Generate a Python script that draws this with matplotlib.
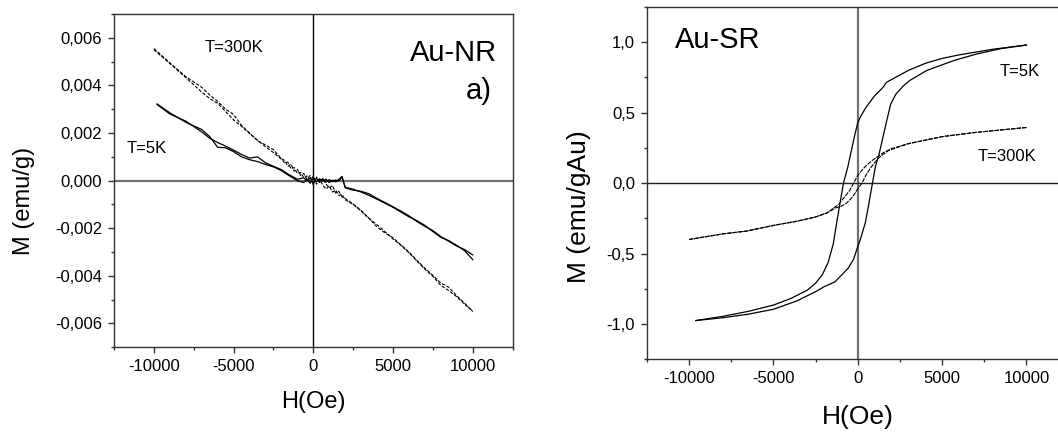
import matplotlib
matplotlib.use('Agg')
import matplotlib.pyplot as plt
from matplotlib.ticker import MultipleLocator, FuncFormatter

plt.rcParams['font.family'] = ['Liberation Sans', 'DejaVu Sans']

# ---- Au-NR, T=300K (two branches) ----
nr_h_300 = [-10000, -9000, -8000, -7000, -6500, -6000, -5500, -5000, -4500, -4000,
            -3500, -3000, -2500, -2000, -1800, -1600, -1400, -1200, -1000, -800,
            -600, -400, -200, 0, 200, 400, 600, 800, 1000, 1200,
            1400, 1600, 1800, 2000, 2500, 3000, 3500, 4000, 4500, 5000,
            5500, 6000, 6500, 7000, 7500, 8000, 8500, 9000, 9500, 10000]
nr_m_300a = [0.00555, 0.00495, 0.00437, 0.00392, 0.00360, 0.00333, 0.00300, 0.00278, 0.00232, 0.00200,
             0.00168, 0.00150, 0.00130, 0.00092, 0.00085, 0.00060, 0.00070, 0.00040, 0.00048, 0.00022,
             0.00030, 0.00005, 0.00022, -0.00018, 0.00015, -0.00008, 0.00010, -0.00015, -0.00030, -0.00020,
             -0.00052, -0.00045, -0.00068, -0.00075, -0.00098, -0.00125, -0.00158, -0.00195, -0.00220, -0.00240,
             -0.00270, -0.00300, -0.00335, -0.00368, -0.00398, -0.00430, -0.00448, -0.00484, -0.00515, -0.00550]
nr_m_300b = [0.00550, 0.00492, 0.00433, 0.00372, 0.00345, 0.00325, 0.00290, 0.00255, 0.00228, 0.00198,
             0.00170, 0.00142, 0.00118, 0.00090, 0.00075, 0.00078, 0.00050, 0.00055, 0.00030, 0.00035,
             0.00012, 0.00020, -0.00010, 0.00020, -0.00015, 0.00005, -0.00020, -0.00035, -0.00022, -0.00048,
             -0.00040, -0.00062, -0.00058, -0.00080, -0.00100, -0.00128, -0.00160, -0.00185, -0.00215, -0.00245,
             -0.00272, -0.00303, -0.00338, -0.00372, -0.00402, -0.00440, -0.00462, -0.00488, -0.00520, -0.00548]

# ---- Au-NR, T=5K (two branches) ----
nr_h_5k = [-9800, -9000, -8000, -7000, -6500, -6000, -5500, -5000, -4500, -4000,
           -3500, -3000, -2500, -2000, -1500, -1000, -600, -400, -200, 0,
           200, 400, 600, 800, 1000, 1200, 1400, 1600, 1800, 2000,
           2500, 3000, 3500, 4000, 4500, 5000, 5500, 6000, 6500, 7000,
           7500, 8000, 8500, 9000, 9500, 10000]
nr_m_5ka = [0.00322, 0.00285, 0.00245, 0.00215, 0.00185, 0.00140, 0.00138, 0.00122, 0.00100, 0.00088,
            0.00080, 0.00068, 0.00058, 0.00042, 0.00020, 0.00000, -0.00008, 0.00005, -0.00010, 0.00010,
            -0.00005, 0.00008, -0.00002, 0.00006, -0.00008, 0.00002, -0.00005, 0.00005, 0.00018, -0.00030,
            -0.00040, -0.00045, -0.00055, -0.00075, -0.00092, -0.00110, -0.00128, -0.00148, -0.00172, -0.00192,
            -0.00210, -0.00235, -0.00255, -0.00275, -0.00290, -0.00312]
nr_m_5kb = [0.00320, 0.00280, 0.00250, 0.00205, 0.00178, 0.00160, 0.00145, 0.00128, 0.00110, 0.00095,
            0.00100, 0.00075, 0.00060, 0.00046, 0.00024, 0.00006, 0.00012, -0.00002, 0.00012, -0.00008,
            0.00010, -0.00004, 0.00008, -0.00006, 0.00004, -0.00004, 0.00003, -0.00002, 0.00015, -0.00028,
            -0.00036, -0.00048, -0.00062, -0.00078, -0.00095, -0.00112, -0.00132, -0.00152, -0.00168, -0.00188,
            -0.00214, -0.00238, -0.00252, -0.00272, -0.00295, -0.00332]

# ---- Au-SR, T=5K loop ----
sr_h_5k_down = [10000, 8000, 6000, 5000, 4000, 3000, 2000, 1700, 1500, 1000, 500, 200, 0, -200, -400,
                -600, -850, -1050, -1250, -1450, -1750, -2100, -2500, -3000, -4000, -5000,
                -6500, -8000, -9600]
sr_m_5k_down = [0.98, 0.95, 0.91, 0.885, 0.85, 0.80, 0.735, 0.715, 0.68, 0.62, 0.54, 0.48, 0.43, 0.33, 0.22,
                0.11, 0.0, -0.14, -0.28, -0.43, -0.56, -0.65, -0.71, -0.76, -0.82, -0.865,
                -0.91, -0.945, -0.975]
sr_h_5k_up = [-9600, -8000, -6500, -5000, -3600, -2500, -2000, -1350, -900, -550, -250, 0, 150, 450,
              650, 870, 1050, 1250, 1500, 1750, 1950, 2250, 2700, 3100, 4100, 5700, 7000, 8500, 10000]
sr_m_5k_up = [-0.975, -0.955, -0.93, -0.895, -0.835, -0.77, -0.735, -0.70, -0.645, -0.60, -0.54, -0.45, -0.40, -0.28,
              -0.15, 0.0, 0.12, 0.20, 0.33, 0.46, 0.56, 0.63, 0.69, 0.73, 0.80, 0.87, 0.915, 0.955, 0.98]

# ---- Au-SR, T=300K loop ----
sr_h_300_down = [10000, 7000, 5000, 3000, 2000, 1500, 1200, 900, 600, 300, 0, -250, -500, -800, -1100,
                 -1300, -1800, -2500, -3600, -5000, -6600, -8000, -10000]
sr_m_300_down = [0.395, 0.36, 0.33, 0.28, 0.245, 0.215, 0.19, 0.165, 0.135, 0.10, 0.055, 0.0, -0.055, -0.10, -0.145,
                 -0.165, -0.21, -0.24, -0.27, -0.30, -0.34, -0.36, -0.40]
sr_h_300_up = [-10000, -8000, -6600, -5000, -3600, -2500, -1800, -1300, -1000, -700, -400, -150, 0, 250,
               500, 800, 1100, 1300, 1800, 2500, 3000, 5000, 7000, 10000]
sr_m_300_up = [-0.40, -0.36, -0.34, -0.30, -0.27, -0.24, -0.21, -0.175, -0.165, -0.145, -0.11, -0.07, -0.04, 0.0,
               0.06, 0.115, 0.16, 0.185, 0.23, 0.26, 0.28, 0.33, 0.36, 0.395]

dash = (0, (3, 1.5))

fig = plt.figure(figsize=(10.58, 4.34), dpi=100)

# left panel
ax1 = fig.add_axes([0.1078, 0.1998, 0.3767, 0.7679])
ax1.axvline(0, color='black', lw=1.0, zorder=1)
ax1.axhline(0, color='#707070', lw=1.6, zorder=1)
ax1.plot(nr_h_300, nr_m_300a, color='black', lw=0.8, ls=dash)
ax1.plot(nr_h_300, nr_m_300b, color='black', lw=0.8, ls=dash)
ax1.plot(nr_h_5k, nr_m_5ka, color='black', lw=0.9)
ax1.plot(nr_h_5k, nr_m_5kb, color='black', lw=0.9)
ax1.set_xlim(-12500, 12500)
ax1.set_ylim(-0.007, 0.007)
ax1.xaxis.set_major_locator(MultipleLocator(5000))
ax1.xaxis.set_minor_locator(MultipleLocator(2500))
ax1.yaxis.set_major_locator(MultipleLocator(0.002))
ax1.yaxis.set_minor_locator(MultipleLocator(0.001))
ax1.xaxis.set_major_formatter(FuncFormatter(lambda v, p: '%d' % round(v)))
ax1.yaxis.set_major_formatter(FuncFormatter(lambda v, p: ('%.3f' % (0.0 if abs(v) < 1e-9 else v)).replace('.', ',')))
ax1.set_xlabel('H(Oe)', fontsize=17)
ax1.set_ylabel('M (emu/g)', fontsize=17)
ax1.xaxis.set_label_coords(0.5, -0.13)
ax1.yaxis.set_label_coords(-0.198, 0.44)
ax1.text(-6800, 0.00558, 'T=300K', fontsize=12, va='center')
ax1.text(-11700, 0.00134, 'T=5K', fontsize=12, va='center')
ax1.text(11500, 0.00535, 'Au-NR', fontsize=21, ha='right', va='center')
ax1.text(11200, 0.00378, 'a)', fontsize=21, ha='right', va='center')

# right panel
ax2 = fig.add_axes([0.6115, 0.1721, 0.3985, 0.8118])
ax2.axvline(0, color='#707070', lw=1.6, zorder=1)
ax2.axhline(0, color='#202020', lw=1.0, zorder=1)
ax2.plot(sr_h_5k_down, sr_m_5k_down, color='black', lw=0.9)
ax2.plot(sr_h_5k_up, sr_m_5k_up, color='black', lw=0.9)
ax2.plot(sr_h_300_down, sr_m_300_down, color='black', lw=0.8, ls=(0, (4, 1)))
ax2.plot(sr_h_300_up, sr_m_300_up, color='black', lw=0.8, ls=(0, (4, 1)))
ax2.set_xlim(-12500, 12500)
ax2.set_ylim(-1.25, 1.25)
ax2.xaxis.set_major_locator(MultipleLocator(5000))
ax2.xaxis.set_minor_locator(MultipleLocator(2500))
ax2.yaxis.set_major_locator(MultipleLocator(0.5))
ax2.yaxis.set_minor_locator(MultipleLocator(0.25))
ax2.xaxis.set_major_formatter(FuncFormatter(lambda v, p: '%d' % round(v)))
ax2.yaxis.set_major_formatter(FuncFormatter(lambda v, p: ('%.1f' % (0.0 if abs(v) < 1e-9 else v)).replace('.', ',')))
ax2.set_xlabel('H(Oe)', fontsize=19)
ax2.set_ylabel('M (emu/gAu)', fontsize=19)
ax2.xaxis.set_label_coords(0.5, -0.13)
ax2.yaxis.set_label_coords(-0.133, 0.433)
ax2.text(-10850, 1.016, 'Au-SR', fontsize=21, va='center')
ax2.text(8430, 0.79, 'T=5K', fontsize=12, va='center')
ax2.text(7130, 0.189, 'T=300K', fontsize=12, va='center')

for ax in (ax1, ax2):
    for s in ax.spines.values():
        s.set_linewidth(1.0)
        s.set_color('#333333')
    ax.tick_params(which='both', direction='out', top=False, right=False, color='#333333')
    ax.tick_params(which='major', length=4.5, width=1.0, labelsize=12, pad=4)
    ax.tick_params(which='minor', length=2.5, width=1.0)

fig.savefig('out.png', dpi=100)
